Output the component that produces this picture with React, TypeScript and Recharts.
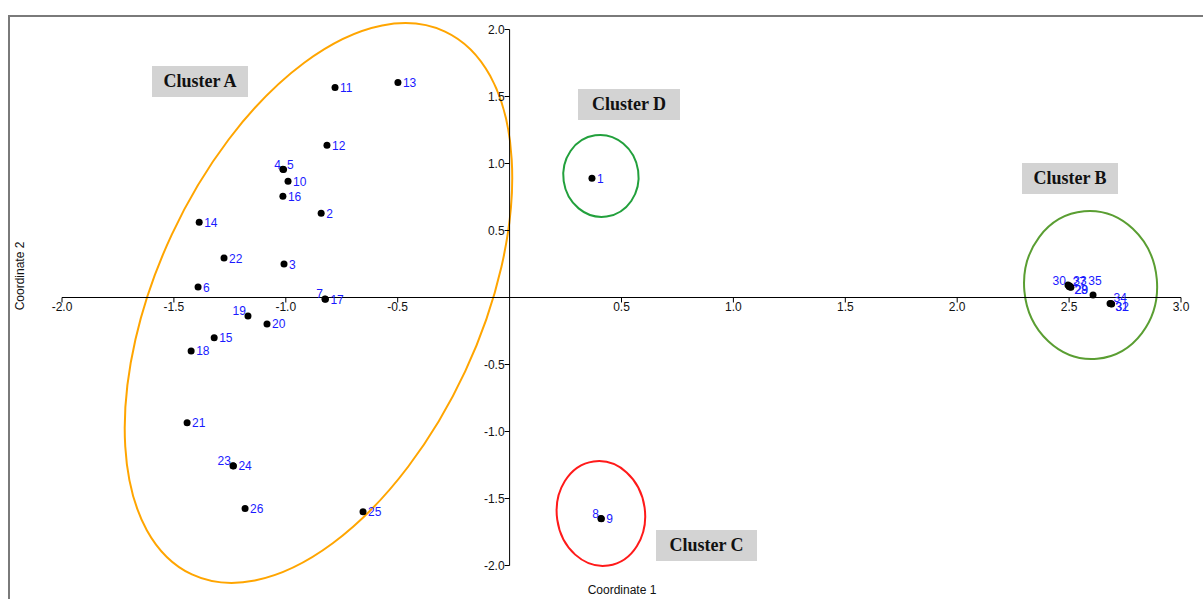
import React from 'react';
import { ScatterChart, Scatter, XAxis, YAxis, ReferenceLine, ReferenceDot, ReferenceArea } from 'recharts';

// ---------- data ----------
const POINT_IDS = ['1','2','3','4','5','6','7','8','9','10','11','12','13','14','15','16','17','18','19','20','21','22','23','24','25','26','27','28','29','30','31','32','33','34','35'];
const COORD1 = [0.368,-0.842,-1.008,-1.013,-1.010,-1.392,-0.825,0.408,0.410,-0.990,-0.780,-0.816,-0.499,-1.387,-1.320,-1.013,-0.823,-1.423,-1.169,-1.084,-1.441,-1.276,-1.236,-1.234,-0.655,-1.182,2.500,2.505,2.508,2.495,2.688,2.690,2.503,2.683,2.607];
const COORD2 = [0.890,0.629,0.250,0.957,0.955,0.078,-0.011,-1.650,-1.652,0.868,1.568,1.136,1.605,0.562,-0.300,0.756,-0.013,-0.399,-0.138,-0.197,-0.935,0.294,-1.255,-1.257,-1.598,-1.575,0.082,0.078,0.076,0.093,-0.046,-0.048,0.086,-0.044,0.019];

const X_TICKS = [-2.0, -1.5, -1.0, -0.5, 0.5, 1.0, 1.5, 2.0, 2.5, 3.0];
const Y_TICKS = [2.0, 1.5, 1.0, 0.5, -0.5, -1.0, -1.5, -2.0];

// cluster ellipses (centre & radii in data units, rotation in degrees)
const CLUSTER_NAMES = ['Cluster A', 'Cluster D', 'Cluster C', 'Cluster B'];
const CLUSTER_CX = [-0.854, 0.408, 0.408, 2.596];
const CLUSTER_CY = [-0.041, 0.907, -1.612, 0.093];
const CLUSTER_RX = [1.338, 0.168, 0.197, 0.297];
const CLUSTER_RY = [1.208, 0.306, 0.392, 0.552];
const CLUSTER_ANGLE = [-65, -8, -8, -5];

// ---------- styles ----------
const CLUSTER_COLORS = ['#FFA500', '#22A03C', '#FF1A1A', '#5A9E32'];
const CLUSTER_BOXES = [
  { left: 152, top: 66, width: 96, height: 31 },
  { left: 578, top: 89, width: 102, height: 31 },
  { left: 656, top: 530, width: 101, height: 31 },
  { left: 1022, top: 163, width: 96, height: 31 },
];
const LABEL_MODE: Record<string, string> = {
  '4': 'L', '5': 'RU', '7': 'L', '19': 'L', '8': 'L', '23': 'L',
  '30': 'L', '33': 'RU', '27': 'RU', '28': 'RD', '29': 'RD', '35': 'U',
  '34': 'RU', '32': 'RD', '31': 'RD',
};
const SANS = '"Liberation Sans", Arial, sans-serif';
const SERIF = '"Liberation Serif", "Times New Roman", serif';
const BLUE = '#1a1aff';

const points = POINT_IDS.map((id, i) => ({ id, x: COORD1[i], y: COORD2[i] }));

function PointShape(props: any) {
  const { cx, cy, payload } = props;
  const mode = LABEL_MODE[payload.id] || 'R';
  let x = cx + 5, y = cy + 4.5, anchor: any = 'start';
  if (mode === 'L') { x = cx - 2; y = cy - 0.5; anchor = 'end'; }
  else if (mode === 'RU') { x = cx + 3.5; y = cy - 1; }
  else if (mode === 'RD') { x = cx + 4; y = cy + 7; }
  else if (mode === 'U') { x = cx + 2; y = cy - 9.5; anchor = 'middle'; }
  return (
    <g>
      <circle cx={cx} cy={cy} r={3.5} fill="#000" />
      <text x={x} y={y} textAnchor={anchor} fontSize={12} fontFamily={SANS} fill={BLUE}>{payload.id}</text>
    </g>
  );
}

const XTick = (label: string) => (p: any) => (
  <g>
    <line x1={p.cx} y1={p.cy} x2={p.cx} y2={p.cy + 5} stroke="#000" strokeWidth={1} />
    <text x={p.cx} y={p.cy + 13.5} textAnchor="middle" fontSize={12} fontFamily={SANS} fill="#111">{label}</text>
  </g>
);
const YTick = (label: string) => (p: any) => (
  <g>
    <line x1={p.cx} y1={p.cy} x2={p.cx - 5} y2={p.cy} stroke="#000" strokeWidth={1} />
    <text x={p.cx - 5} y={p.cy + 4} textAnchor="end" fontSize={12} fontFamily={SANS} fill="#111">{label}</text>
  </g>
);

const EllipseShape = (color: string, angle: number) => (p: any) => {
  const cx = p.x + p.width / 2;
  const cy = p.y + p.height / 2;
  return (
    <ellipse cx={cx} cy={cy} rx={Math.abs(p.width) / 2} ry={Math.abs(p.height) / 2}
      transform={`rotate(${angle} ${cx} ${cy})`} fill="none" stroke={color} strokeWidth={2} />
  );
};

export default function App() {
  return (
    <div style={{ position: 'fixed', left: 0, top: 0, width: 1203, height: 599, background: '#fff', overflow: 'hidden' }}>
      <div style={{ position: 'absolute', left: 8, top: 15, width: 1200, height: 600, borderTop: '2px solid #7a7a7a', borderLeft: '2px solid #7a7a7a' }} />
      <div style={{ position: 'absolute', left: 0, top: 0 }}>
        <ScatterChart width={1203} height={599} margin={{ top: 16.1, right: 10.81, bottom: 6.7, left: 17.24 }}>
          <XAxis type="number" dataKey="x" domain={[-2.2, 3.05]} hide allowDataOverflow />
          <YAxis type="number" dataKey="y" domain={[-2.2, 2.1]} hide allowDataOverflow />
          {CLUSTER_NAMES.map((n, i) => (
            <ReferenceArea key={n}
              x1={CLUSTER_CX[i] - CLUSTER_RX[i]} x2={CLUSTER_CX[i] + CLUSTER_RX[i]}
              y1={CLUSTER_CY[i] - CLUSTER_RY[i]} y2={CLUSTER_CY[i] + CLUSTER_RY[i]}
              ifOverflow="visible" shape={EllipseShape(CLUSTER_COLORS[i], CLUSTER_ANGLE[i])} />
          ))}
          <ReferenceLine segment={[{ x: -2, y: 0 }, { x: 3, y: 0 }]} stroke="#000" strokeWidth={1} ifOverflow="visible" />
          <ReferenceLine segment={[{ x: 0, y: -2 }, { x: 0, y: 2 }]} stroke="#000" strokeWidth={1} ifOverflow="visible" />
          {X_TICKS.map(t => (
            <ReferenceDot key={'x' + t} x={t} y={0} r={0} ifOverflow="visible" shape={XTick(t.toFixed(1))} />
          ))}
          {Y_TICKS.map(t => (
            <ReferenceDot key={'y' + t} x={0} y={t} r={0} ifOverflow="visible" shape={YTick(t.toFixed(1))} />
          ))}
          <Scatter data={points} isAnimationActive={false} shape={PointShape} />
        </ScatterChart>
      </div>
      {CLUSTER_NAMES.map((n, i) => (
        <div key={n} style={{
          position: 'absolute', ...CLUSTER_BOXES[i], background: '#d3d3d3',
          display: 'flex', alignItems: 'center', justifyContent: 'center',
          fontFamily: SERIF, fontWeight: 'bold', fontSize: 18, color: '#111',
        }}>{n}</div>
      ))}
      <div style={{ position: 'absolute', left: 522, width: 200, top: 583, textAlign: 'center', fontFamily: SANS, fontSize: 12, color: '#111' }}>Coordinate 1</div>
      <div style={{ position: 'absolute', left: 20, top: 277, width: 0, height: 0 }}>
        <div style={{ position: 'absolute', left: -50, top: -8, width: 100, textAlign: 'center', transform: 'rotate(-90deg)', fontFamily: SANS, fontSize: 12, color: '#111' }}>Coordinate 2</div>
      </div>
    </div>
  );
}
